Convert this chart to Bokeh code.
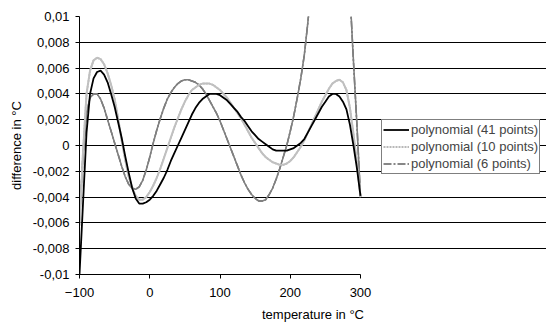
from bokeh.plotting import figure
from bokeh.models import (FixedTicker, Legend, LegendItem, Grid, ColumnDataSource)
from bokeh.embed import file_html
from bokeh.resources import INLINE

temperature = list(range(-100, 301, 5))

poly41 = [-0.0100, -0.0045, 0.0010, 0.0040, 0.0052, 0.0057, 0.0058, 0.0055, 0.0049, 0.0040,
          0.0030, 0.0018, 0.0006, -0.0008, -0.0021, -0.0033, -0.0041, -0.0045, -0.0045, -0.0044,
          -0.0042, -0.0039, -0.0035, -0.0030, -0.0025, -0.0019, -0.0012, -0.0006, 0.0000, 0.0006,
          0.0012, 0.0018, 0.0024, 0.0029, 0.0033, 0.0036, 0.0038, 0.0040, 0.0040, 0.0040,
          0.0039, 0.0037, 0.0035, 0.0032, 0.0029, 0.0026, 0.0022, 0.0019, 0.0015, 0.0011,
          0.0008, 0.0005, 0.0003, 0.0001, -0.0001, -0.0003, -0.0004, -0.0004, -0.0004, -0.0004,
          -0.0003, -0.0002, 0.0000, 0.0002, 0.0005, 0.0010, 0.0015, 0.0020, 0.0025, 0.0030,
          0.0034, 0.0038, 0.0040, 0.0040, 0.0038, 0.0034, 0.0028, 0.0016, 0.0000, -0.0018,
          -0.0039]

poly10 = [-0.0062, -0.0005, 0.0040, 0.0058, 0.0066, 0.0068, 0.0067, 0.0063, 0.0056, 0.0047,
          0.0036, 0.0021, 0.0004, -0.0011, -0.0024, -0.0033, -0.0039, -0.0042, -0.0042, -0.0040,
          -0.0036, -0.0031, -0.0025, -0.0018, -0.0010, -0.0002, 0.0006, 0.0014, 0.0021, 0.0028,
          0.0034, 0.0039, 0.0043, 0.0045, 0.0047, 0.0048, 0.0048, 0.0048, 0.0047, 0.0045,
          0.0043, 0.0040, 0.0037, 0.0033, 0.0029, 0.0025, 0.0021, 0.0016, 0.0011, 0.0006,
          0.0002, -0.0002, -0.0006, -0.0009, -0.0011, -0.0013, -0.0014, -0.0015, -0.0015, -0.0014,
          -0.0012, -0.0009, -0.0005, -0.0001, 0.0004, 0.0010, 0.0016, 0.0022, 0.0028, 0.0034,
          0.0039, 0.0044, 0.0048, 0.0050, 0.0051, 0.0049, 0.0043, 0.0029, 0.0009, -0.0014,
          -0.0040]

poly6 = [-0.0058, -0.0008, 0.0025, 0.0037, 0.0040, 0.0040, 0.0036, 0.0029, 0.0020, 0.0011,
         0.0002, -0.0007, -0.0016, -0.0024, -0.0030, -0.0033, -0.0034, -0.0032, -0.0027, -0.0019,
         -0.0009, 0.0002, 0.0012, 0.0021, 0.0029, 0.0036, 0.0041, 0.0045, 0.0048, 0.0050,
         0.0051, 0.0051, 0.0050, 0.0049, 0.0047, 0.0044, 0.0040, 0.0035, 0.0030, 0.0025,
         0.0019, 0.0012, 0.0005, -0.0002, -0.0009, -0.0016, -0.0023, -0.0029, -0.0034, -0.0038,
         -0.0041, -0.0043, -0.0043, -0.0042, -0.0038, -0.0033, -0.0026, -0.0018, -0.0009, 0.0000,
         0.0011, 0.0023, 0.0037, 0.0052, 0.0070, 0.0095, 0.0123, 0.0150, 0.0175, 0.0195,
         0.0210, 0.0220, 0.0225, 0.0222, 0.0210, 0.0190, 0.0160, 0.0118, 0.0065, 0.0015,
         -0.0040]

x_ticks = [-100, 0, 100, 200, 300]
y_ticks = [-0.01, -0.008, -0.006, -0.004, -0.002, 0, 0.002, 0.004, 0.006, 0.008, 0.01]
y_tick_labels = ["-0,01", "-0,008", "-0,006", "-0,004", "-0,002", "0",
                 "0,002", "0,004", "0,006", "0,008", "0,01"]
series_names = ["polynomial (41 points)", "polynomial (10 points)", "polynomial (6 points)"]

FONT = "Liberation Sans"

# frame spans to the right edge so the legend (outside the data area) is not clipped;
# the visible data area (-100..300) is 281 px wide
X_MIN, X_MAX = -100, 300
x_end = X_MAX + (546 - 360) * (X_MAX - X_MIN) / 281.0

p = figure(width=546, height=324, output_backend="svg", toolbar_location=None,
           x_range=(X_MIN, x_end), y_range=(-0.01, 0.01),
           min_border_left=79, min_border_right=0, min_border_top=16, min_border_bottom=48)
p.background_fill_color = "white"
p.border_fill_color = "white"
p.outline_line_color = None

# grid
p.xgrid.visible = False
p.ygrid.ticker = FixedTicker(ticks=y_ticks[1:-1])
p.ygrid.grid_line_color = "black"
p.ygrid.grid_line_width = 1
p.ygrid.bounds = (X_MIN, X_MAX)
top_grid = Grid(dimension=1, ticker=FixedTicker(ticks=[y_ticks[-1]]), bounds=(X_MIN, X_MAX),
                grid_line_color="#c0c0c0", grid_line_width=1.5)
p.add_layout(top_grid)

src = ColumnDataSource(dict(t=temperature, a=poly41, b=poly10, c=poly6))

# legend swatch styles (drawn underneath the solid series, hidden by them)
s6 = p.line("t", "c", source=src, line_color="#606060", line_width=1.5, line_dash="8 2 2 2")
s10 = p.line("t", "b", source=src, line_color="#b8b8b8", line_width=1.8, line_dash="2 1")

r6 = p.line("t", "c", source=src, line_color="#808080", line_width=1.6)
r10 = p.line("t", "b", source=src, line_color="#c0c0c0", line_width=2)
r41 = p.line("t", "a", source=src, line_color="black", line_width=1.8)

legend = Legend(items=[LegendItem(label=series_names[0], renderers=[r41]),
                       LegendItem(label=series_names[1], renderers=[s10]),
                       LegendItem(label=series_names[2], renderers=[s6])],
                location=(302, 100), margin=0, padding=1, spacing=0,
                glyph_width=26, glyph_height=17, label_height=17, label_standoff=2,
                label_text_font=FONT, label_text_font_size="13px",
                border_line_color="black", border_line_width=1,
                background_fill_alpha=1)
p.add_layout(legend)

# axes
for ax in (p.xaxis[0], p.yaxis[0]):
    ax.axis_line_color = "black"
    ax.axis_line_width = 1
    ax.major_tick_line_color = "black"
    ax.major_tick_out = 4
    ax.major_tick_in = 0
    ax.minor_tick_line_color = None
    ax.major_label_text_font = FONT
    ax.major_label_text_font_size = "13px"
    ax.major_label_text_color = "black"
    ax.axis_label_text_font = FONT
    ax.axis_label_text_font_size = "13px"
    ax.axis_label_text_font_style = "normal"
    ax.axis_label_text_color = "black"

p.xaxis.ticker = FixedTicker(ticks=x_ticks)
p.xaxis.bounds = (X_MIN, X_MAX)
p.xaxis.axis_label = "temperature in °C"
p.xaxis.major_label_standoff = 9
p.xaxis.axis_label_standoff = 7

p.yaxis.ticker = FixedTicker(ticks=y_ticks)
p.yaxis.major_label_overrides = {v: l for v, l in zip(y_ticks, y_tick_labels)}
p.yaxis.axis_label = "difference in °C"
p.yaxis.major_label_standoff = 6
p.yaxis.axis_label_standoff = 6

open("out.html", "w").write(file_html(p, INLINE))
